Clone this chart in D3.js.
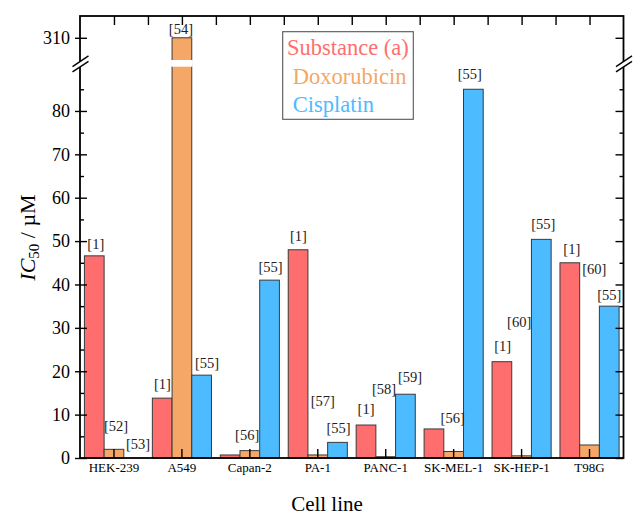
<!DOCTYPE html>
<html>
<head>
<meta charset="utf-8">
<script src="https://cdn.jsdelivr.net/npm/d3@7"></script>
<style>
  html, body { margin: 0; padding: 0; background: #fff; }
  svg { display: block; }
</style>
</head>
<body>
<svg id="chart" width="633" height="515"></svg>
<script>
// ---- data -------------------------------------------------------------
const cellLines   = ["HEK-239", "A549", "Capan-2", "PA-1", "PANC-1", "SK-MEL-1", "SK-HEP-1", "T98G"];
const seriesNames = ["Substance (a)", "Doxorubicin", "Cisplatin"];

// IC50 values in µM
const substanceA  = [46.6, 13.8, 0.7, 48.0, 7.6, 6.7, 22.2, 45.0];
const doxorubicin = [2.0, 310, 1.7, 0.7, 0.3, 1.5, 0.5, 3.0];
const cisplatin   = [0.0, 19.1, 41.0, 3.6, 14.7, 85.0, 50.4, 35.0];

// literature references printed over the bars
const refsSubstanceA  = ["[1]", "[1]", "", "[1]", "[1]", "", "[1]", "[1]"];
const refsDoxorubicin = ["[52]", "[54]", "[56]", "[57]", "[58]", "[56]", "[60]", "[60]"];
const refsCisplatin   = ["[53]", "[55]", "[55]", "[55]", "[59]", "[55]", "[55]", "[55]"];

// axis ticks
const yMajorTicks = [0, 10, 20, 30, 40, 50, 60, 70, 80, 310];
const yMinorTicks = [5, 15, 25, 35, 45, 55, 65, 75, 85];

// ---- layout -----------------------------------------------------------
const FONT = "'Liberation Serif', 'Times New Roman', serif";
const colors = ["#FF6E6E", "#F4A766", "#4DBBFF"];
const plot = { left: 80, right: 623.5, top: 16, bottom: 458 };
const breakLow = 90.2, breakHigh = 304.9, yTopValue = 315;
const gapTop = 60, gapBottom = 66.7;

// label nudges (px): [dx, baseline offset above bar top]
const labelNudge = [
  [[1.5, -6.7], [0.2, -8.7], [0, 0], [0.4, -9], [0, -11], [0, 0], [0.8, -10.4], [2, -8.7]],
  [[2, -18.3], [-1, -3.3], [-2.7, -10.7], [5, -49.3], [-1.7, -62.7], [-1, -28.4], [-2.4, -129], [4.7, -171]],
  [[4.4, -9], [5.5, -6.7], [1, -7.7], [1, -9.3], [4.7, -12], [-3.5, -10.3], [2, -10.3], [0, -6.6]]
];

const seriesValues = [substanceA, doxorubicin, cisplatin];
const seriesRefs = [refsSubstanceA, refsDoxorubicin, refsCisplatin];

const bars = [];
cellLines.forEach((c, i) => {
  seriesNames.forEach((s, k) => {
    bars.push({ cell: c, series: s, k, value: seriesValues[k][i], ref: seriesRefs[k][i], nudge: labelNudge[k][i] });
  });
});

// ---- scales -----------------------------------------------------------
const x = d3.scaleBand().domain(cellLines).range([plot.left, plot.right])
  .paddingInner(0.13).paddingOuter(0.065);
const xSub = d3.scaleBand().domain(seriesNames).range([0, x.bandwidth()]);
const xCenter = d3.scaleBand().domain(cellLines).range([plot.left, plot.right]);

// broken y axis: two linear pieces joined across the gap
const y = d3.scaleLinear()
  .domain([0, breakLow, breakHigh, yTopValue])
  .range([plot.bottom, gapBottom, gapTop, plot.top]);

const svg = d3.select("#chart").attr("font-family", FONT);

// ---- bars -------------------------------------------------------------
const barG = svg.append("g");
barG.selectAll("rect").data(bars).join("rect")
  .attr("x", d => x(d.cell) + xSub(d.series))
  .attr("y", d => y(d.value))
  .attr("width", xSub.bandwidth())
  .attr("height", d => y(0) - y(d.value))
  .attr("fill", d => colors[d.k])
  .attr("stroke", "#3a3a3a")
  .attr("stroke-width", 1);

// white gap through bars crossing the break
barG.selectAll("rect.gap").data(bars.filter(d => d.value > breakHigh)).join("rect")
  .attr("class", "gap")
  .attr("x", d => x(d.cell) + xSub(d.series) - 1)
  .attr("y", gapTop)
  .attr("width", xSub.bandwidth() + 2)
  .attr("height", gapBottom - gapTop)
  .attr("fill", "#fff");

// reference labels
svg.append("g").selectAll("text").data(bars.filter(d => d.ref)).join("text")
  .attr("x", d => x(d.cell) + xSub(d.series) + xSub.bandwidth() / 2 + d.nudge[0])
  .attr("y", d => y(d.value) + d.nudge[1])
  .attr("text-anchor", "middle")
  .attr("font-family", FONT)
  .attr("font-size", 14.5)
  .attr("fill", "#222")
  .text(d => d.ref);

// ---- axes & frame -----------------------------------------------------
const tickStroke = g => {
  g.select(".domain").remove();
  g.selectAll(".tick line").attr("stroke", "#000").attr("stroke-width", 1.4);
};

// left: labels with outward part of major ticks
svg.append("g").attr("transform", `translate(${plot.left},0)`)
  .call(d3.axisLeft(y).tickValues(yMajorTicks).tickSize(5).tickPadding(5).tickFormat(d3.format("d")))
  .call(tickStroke)
  .call(g => g.attr("font-family", FONT).attr("font-size", 18)
    .selectAll("text").attr("fill", "#000"));
// left: inward part of major ticks
svg.append("g").attr("transform", `translate(${plot.left},0)`)
  .call(d3.axisLeft(y).tickValues(yMajorTicks).tickSize(-7).tickFormat(""))
  .call(tickStroke);
// left: minor ticks
svg.append("g").attr("transform", `translate(${plot.left},0)`)
  .call(d3.axisLeft(y).tickValues(yMinorTicks).tickSize(-4).tickFormat(""))
  .call(tickStroke);

// right: inward ticks
svg.append("g").attr("transform", `translate(${plot.right},0)`)
  .call(d3.axisRight(y).tickValues(yMajorTicks).tickSize(-8).tickFormat(""))
  .call(tickStroke);
svg.append("g").attr("transform", `translate(${plot.right},0)`)
  .call(d3.axisRight(y).tickValues(yMinorTicks).tickSize(-4).tickFormat(""))
  .call(tickStroke);

// bottom: category ticks and labels
svg.append("g").attr("transform", `translate(0,${plot.bottom})`)
  .call(d3.axisBottom(xCenter).tickSize(-9).tickPadding(5).tickSizeOuter(0))
  .call(tickStroke)
  .call(g => g.attr("font-family", FONT).attr("font-size", 13)
    .selectAll("text").attr("fill", "#000"));

// top: ticks at category centres and boundaries
const topTicks = [];
cellLines.forEach((c, i) => {
  topTicks.push(xCenter(c) + xCenter.bandwidth() / 2);
  if (i > 0) topTicks.push(xCenter(c));
});
const topScale = d3.scaleIdentity();
svg.append("g").attr("transform", `translate(0,${plot.top})`)
  .call(d3.axisTop(topScale).tickValues(topTicks).tickSize(-9).tickFormat("").tickSizeOuter(0))
  .call(tickStroke);

// frame
svg.append("rect")
  .attr("x", plot.left).attr("y", plot.top)
  .attr("width", plot.right - plot.left).attr("height", plot.bottom - plot.top)
  .attr("fill", "none").attr("stroke", "#000").attr("stroke-width", 1.8);

// axis break marks
function breakMark(cx, cy) {
  const g = svg.append("g");
  g.append("path")
    .attr("d", `M${cx - 8},${cy + 2.6} L${cx + 8},${cy - 8} L${cx + 8},${cy - 2.6} L${cx - 8},${cy + 8} Z`)
    .attr("fill", "#fff");
  [[2.6, -8], [8, -2.6]].forEach(([a, b]) => {
    g.append("line")
      .attr("x1", cx - 8).attr("y1", cy + a)
      .attr("x2", cx + 8).attr("y2", cy + b)
      .attr("stroke", "#000").attr("stroke-width", 1.4);
  });
}
const breakY = (gapTop + gapBottom) / 2 + 0.6;
breakMark(plot.left + 0.5, breakY);
breakMark(plot.right + 0.5, breakY);

// ---- legend -----------------------------------------------------------
const legend = svg.append("g").attr("font-family", FONT);
legend.append("rect")
  .attr("x", 282.7).attr("y", 31.7).attr("width", 130.6).attr("height", 87.6)
  .attr("fill", "#fff").attr("stroke", "#555").attr("stroke-width", 1.1);
const legendX = [287, 292.7, 292.7];
const legendY = [55, 84, 111.7];
seriesNames.forEach((s, k) => {
  legend.append("text")
    .attr("x", legendX[k]).attr("y", legendY[k])
    .attr("font-family", FONT)
    .attr("font-size", 22.5)
    .attr("fill", colors[k])
    .text(s);
});

// ---- axis titles ------------------------------------------------------
svg.append("text")
  .attr("x", 327).attr("y", 511)
  .attr("text-anchor", "middle")
  .attr("font-family", FONT)
  .attr("font-size", 21)
  .attr("fill", "#000")
  .text("Cell line");

const yTitle = svg.append("text")
  .attr("transform", "translate(35,237.5) rotate(-90)")
  .attr("text-anchor", "middle")
  .attr("font-family", FONT)
  .attr("font-size", 22)
  .attr("fill", "#000");
yTitle.append("tspan").attr("font-style", "italic").text("IC");
yTitle.append("tspan").attr("font-size", 15).attr("dy", 4).text("50");
yTitle.append("tspan").attr("dy", -4).text(" / µM");
</script>
</body>
</html>
